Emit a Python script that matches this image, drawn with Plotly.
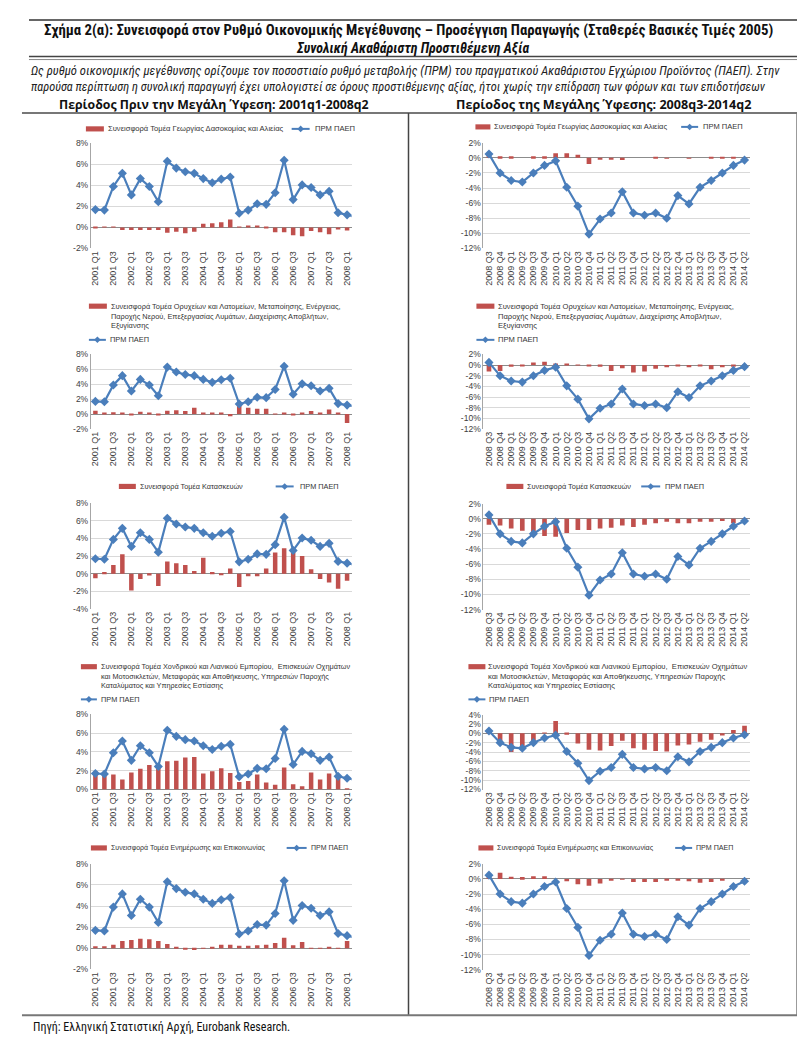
import plotly.graph_objects as go

W, H = 805, 1046

# ---------------- data ----------------
q_pre = [f"{y} Q{q}" for y in range(2001, 2009) for q in range(1, 5)][:30]      # 2001Q1..2008Q2
q_crisis = [f"{y} Q{q}" for y in range(2008, 2015) for q in range(1, 5)][2:26]  # 2008Q3..2014Q2

gdp_pre = [1.7, 1.65, 3.9, 5.15, 3.1, 4.65, 3.9, 2.45, 6.3, 5.65, 5.3, 5.15, 4.65, 4.25, 4.6,
           4.8, 1.35, 1.65, 2.25, 2.2, 3.3, 6.4, 2.65, 4.05, 3.8, 3.1, 3.45, 1.4, 1.2, 1.0]
gdp_crisis = [0.5, -2.0, -3.0, -3.2, -2.0, -1.0, -0.4, -3.9, -6.4, -10.1, -8.1, -7.3, -4.5, -7.3,
              -7.6, -7.3, -8.0, -5.0, -6.1, -3.9, -3.0, -2.0, -1.0, -0.3]

agri_pre = [-0.05, 0.02, 0.02, -0.25, -0.25, -0.25, -0.25, -0.25, -0.5, -0.4, -0.55, -0.4, 0.35, 0.4,
            0.5, 0.75, 0.03, 0.12, 0.12, -0.1, -0.45, -0.45, -0.75, -0.85, -0.35, -0.45, -0.65, -0.2, -0.3]
agri_crisis = [0.4, 0.2, 0.2, 0.0, 0.2, 0.2, 0.6, 0.6, 0.4, -0.8, -0.2, -0.2, -0.3, 0.0, 0.0, 0.05,
               -0.1, 0.0, -0.1, 0.0, 0.1, 0.1, 0.05, -0.1]

ind_pre = [0.45, 0.1, 0.25, 0.2, -0.2, 0.3, 0.15, -0.05, 0.45, 0.5, 0.4, 0.85, 0.1, 0.2, 0.15, -0.3,
           1.2, 0.85, 0.7, 0.7, 0.05, 0.15, -0.2, 0.1, 0.4, 0.1, 0.6, 0.1, -1.2]
ind_crisis = [-1.2, -1.1, -0.3, -0.1, 0.5, 0.6, 0.3, 0.2, 0.05, -0.2, -0.3, -1.1, -0.6, -1.4, -1.2,
              -0.7, -0.4, -0.1, -0.4, -0.1, -0.8, -0.4, -0.3, -0.1]

cons_pre = [-0.5, 0.2, 1.0, 2.2, -1.9, -0.6, -0.2, -1.4, 1.4, 1.2, 1.0, 0.3, 1.8, 0.2, -0.1, 0.6,
            -1.5, -0.3, -0.3, 0.6, 2.4, 2.9, 2.4, 2.0, 0.5, -0.6, -1.0, -1.7, -0.8]
cons_crisis = [-0.8, -0.9, -1.3, -1.6, -2.1, -2.3, -2.4, -1.9, -1.5, -1.5, -1.3, -1.2, -0.9, -1.1,
               -0.8, -0.6, -0.4, -0.6, -0.6, -0.4, -0.4, -0.3, -0.6, -0.2]

trade_pre = [1.95, 1.6, 1.6, 1.05, 1.8, 2.2, 2.6, 2.4, 3.0, 3.05, 3.4, 3.45, 1.7, 1.95, 2.25, 1.75,
             0.8, 0.9, 1.6, 0.75, 0.5, 2.35, 0.55, 0.35, 1.8, 1.05, 1.7, 1.4, 0.05]
trade_crisis = [0.1, -2.0, -4.0, -3.5, -1.8, 0.1, 2.6, -0.3, -2.2, -3.5, -3.7, -2.7, -1.6, -3.2,
                -3.5, -3.8, -3.9, -2.6, -2.4, -1.8, -1.4, -0.5, 0.7, 1.6]

ict_pre = [0.2, 0.2, 0.35, 0.7, 0.8, 0.9, 0.85, 0.7, 0.4, 0.1, -0.05, -0.15, -0.02, 0.15, 0.35, 0.35,
           0.25, 0.25, 0.3, 0.35, 0.5, 1.0, 0.3, 0.6, 0.03, -0.02, 0.15, -0.02, 0.7]
ict_crisis = [0.4, 0.8, 0.3, 0.25, 0.35, 0.35, 0.0, -0.3, -0.7, -0.9, -0.6, -0.2, -0.1, -0.4, -0.4,
              -0.4, -0.2, -0.2, -0.3, -0.5, -0.4, -0.2, 0.0, -0.05]

name_agri = ["Συνεισφορά Τομέα Γεωργίας Δασοκομίας και Αλιείας"]
name_ind = ["Συνεισφορά Τομέα Ορυχείων και Λατομείων, Μεταποίησης, Ενέργειας,",
            "Παροχής Νερού, Επεξεργασίας Λυμάτων, Διαχείρισης Αποβλήτων,",
            "Εξυγίανσης"]
name_cons = ["Συνεισφορά Τομέα Κατασκευών"]
name_trade = ["Συνεισφορά Τομέα Χονδρικού και Λιανικού Εμπορίου,  Επισκευών Οχημάτων",
              "και Μοτοσικλετών, Μεταφοράς και Αποθήκευσης, Υπηρεσιών Παροχής",
              "Καταλύματος και Υπηρεσίες Εστίασης"]
name_ict = ["Συνεισφορά Τομέα Ενημέρωσης και Επικοινωνίας"]
name_gdp = "ΠΡΜ ΠΑΕΠ"

title1 = ("Σχήμα 2(α): Συνεισφορά στον Ρυθμό Οικονομικής Μεγέθυνσης – Προσέγγιση Παραγωγής "
          "(Σταθερές Βασικές Τιμές 2005)")
title2 = "Συνολική Ακαθάριστη Προστιθέμενη Αξία"
intro1 = ("Ως ρυθμό οικονομικής μεγέθυνσης ορίζουμε τον ποσοστιαίο ρυθμό μεταβολής (ΠΡΜ) του "
          "πραγματικού Ακαθάριστου Εγχώριου Προϊόντος (ΠΑΕΠ). Στην")
intro2 = ("παρούσα περίπτωση η συνολική παραγωγή έχει υπολογιστεί σε όρους προστιθέμενης αξίας, "
          "ήτοι χωρίς την επίδραση των φόρων και των επιδοτήσεων")
period_pre = "Περίοδος Πριν την Μεγάλη Ύφεση: 2001q1-2008q2"
period_crisis = "Περίοδος της Μεγάλης Ύφεσης: 2008q3-2014q2"
source = "Πηγή: Ελληνική Στατιστική Αρχή, Eurobank Research."

# ---------------- styling ----------------
BAR = "#C0504D"
LINE = "#4A7EBB"
GRID = "#D9D9D9"
TXT = "#404040"
AXF = "Liberation Sans, Arial, sans-serif"
NARROW = "Liberation Sans Narrow, Arial Narrow, Roboto Condensed, DejaVu Sans Condensed, sans-serif"

def fx(p):
    return p / W

def fy(p):
    return 1 - p / H

LX = (82, 343)
RX = (475, 742)
# (bars, legend lines, side, plot top px, plot bottom px, y range, legend geometry)
panels = [
    (agri_pre, name_agri, "L", 131.7, 237.7, (-2, 8),
     dict(sw=(77, 95, 117), tx=97, ty=[117], lsw=(283, 301, 117), ltx=304, fs=7.6)),
    (agri_crisis, name_agri, "R", 131.0, 237.7, (-12, 2),
     dict(sw=(467, 482, 115), tx=484, ty=[115], lsw=(673, 690, 115), ltx=693, fs=7.5)),
    (ind_pre, name_ind, "L", 344.7, 420.0, (-2, 8),
     dict(sw=(80, 98, 296), tx=100, ty=[296, 306, 315.5], lsw=(80, 97, 330), ltx=99, fs=7.4)),
    (ind_crisis, name_ind, "R", 344.7, 420.0, (-12, 2),
     dict(sw=(468, 486, 296), tx=488, ty=[296, 306, 315.5], lsw=(468, 486, 330), ltx=488, fs=7.6)),
    (cons_pre, name_cons, "L", 495.0, 601.7, (-4, 8),
     dict(sw=(110, 127, 478), tx=129, ty=[478], lsw=(267, 285, 478), ltx=289, fs=7.3)),
    (cons_crisis, name_cons, "R", 495.3, 602.3, (-12, 2),
     dict(sw=(498, 515, 478), tx=517, ty=[478], lsw=(633, 652, 478), ltx=655, fs=7.4)),
    (trade_pre, name_trade, "L", 708.0, 784.0, (0, 8),
     dict(sw=(72, 88, 660), tx=90, ty=[660, 670, 679.3], lsw=(72, 88, 693), ltx=90, fs=7.3)),
    (trade_crisis, name_trade, "R", 708.3, 784.0, (-12, 4),
     dict(sw=(460, 477, 660), tx=478, ty=[660, 670, 679.3], lsw=(460, 477, 693), ltx=479, fs=7.6)),
    (ict_pre, name_ict, "L", 859.0, 965.7, (-2, 8),
     dict(sw=(82, 98, 843), tx=100, ty=[843], lsw=(278, 298, 843), ltx=300, fs=7.0)),
    (ict_crisis, name_ict, "R", 859.0, 966.0, (-12, 2),
     dict(sw=(470, 485, 843), tx=487, ty=[843], lsw=(667, 684, 843), ltx=686, fs=7.1)),
]

fig = go.Figure()
layout = dict(
    width=W, height=H, margin=dict(l=0, r=0, t=0, b=0),
    paper_bgcolor="white", plot_bgcolor="white",
    font=dict(family=AXF, color=TXT, size=8),
    barmode="overlay", showlegend=False,
)
shapes = []
annotations = []

def ann(text, x, y, size, family=AXF, color="#333333", xanchor="left"):
    annotations.append(dict(text=text, x=fx(x), y=fy(y), xref="paper", yref="paper",
                            xanchor=xanchor, yanchor="middle", showarrow=False,
                            font=dict(size=size, family=family, color=color)))

for i, (bars, bname, side, yt, yb, yr, leg) in enumerate(panels, start=1):
    sfx = "" if i == 1 else str(i)
    xa, ya = "x" + sfx, "y" + sfx
    if side == "L":
        cats, gdp, xd, bw = q_pre, gdp_pre, LX, 0.5
        ncat = 29
        tickvals = q_pre[0:29:2]
    else:
        cats, gdp, xd, bw = q_crisis, gdp_crisis, RX, 0.42
        ncat = 24
        tickvals = q_crisis
    fig.add_trace(go.Bar(
        x=cats[:len(bars)], y=bars, name=" ".join(bname), marker=dict(color=BAR, line=dict(width=0)),
        width=bw, xaxis=xa, yaxis=ya, hoverinfo="skip"))
    fig.add_trace(go.Scatter(
        x=cats, y=gdp, name=name_gdp, mode="lines+markers",
        line=dict(color=LINE, width=2.2),
        marker=dict(symbol="diamond", size=7, color=LINE),
        xaxis=xa, yaxis=ya, cliponaxis=True, hoverinfo="skip"))

    yvals = list(range(yr[0], yr[1] + 1, 2))
    layout["xaxis" + sfx] = dict(
        domain=[fx(xd[0]), fx(xd[1])], anchor=ya, type="category",
        categoryorder="array", categoryarray=cats,
        range=[-0.5, ncat - 0.5], tickvals=tickvals, ticktext=tickvals,
        tickangle=-90, tickfont=dict(size=9, color="#404040", family=AXF),
        showgrid=False, showline=False, ticks="", zeroline=False, fixedrange=True)
    layout["yaxis" + sfx] = dict(
        domain=[fy(yb), fy(yt)], anchor=xa, range=[yr[0], yr[1]],
        tickvals=yvals, ticktext=[f"{v}%" for v in yvals],
        tickfont=dict(size=8.5, color="#404040", family=AXF),
        showgrid=True, gridcolor=GRID, gridwidth=1,
        zeroline=True, zerolinecolor="#8C8C8C", zerolinewidth=1,
        showline=True, linecolor="#A6A6A6", linewidth=1, ticks="", ticklen=0,
        fixedrange=True)

    # ---- legend drawn by hand (swatches + text) ----
    x0, x1, sy = leg["sw"]
    shapes.append(dict(type="rect", xref="paper", yref="paper",
                       x0=fx(x0), x1=fx(x1), y0=fy(sy + 2.6), y1=fy(sy - 2.6),
                       fillcolor=BAR, line=dict(width=0)))
    for line_text, ty in zip(bname, leg["ty"]):
        ann(line_text, leg["tx"], ty, leg["fs"])
    lx0, lx1, ly = leg["lsw"]
    shapes.append(dict(type="line", xref="paper", yref="paper",
                       x0=fx(lx0), x1=fx(lx1), y0=fy(ly), y1=fy(ly),
                       line=dict(color=LINE, width=2)))
    cx, d = (lx0 + lx1) / 2, 3.3
    path = (f"M{fx(cx)},{fy(ly - d)} L{fx(cx + d)},{fy(ly)} "
            f"L{fx(cx)},{fy(ly + d)} L{fx(cx - d)},{fy(ly)} Z")
    shapes.append(dict(type="path", xref="paper", yref="paper", path=path,
                       fillcolor=LINE, line=dict(width=0)))
    ann(name_gdp, leg["ltx"], ly, leg["fs"])

fig.update_layout(**layout)

# ---------------- header / footer text ----------------
ann(f"<b>{title1}</b>", 400, 17, 14.8, NARROW, "#111111", "center")
ann(f"<b><i>{title2}</i></b>", 404, 35, 14, NARROW, "#111111", "center")
ann(f"<i>{intro1}</i>", 20, 58, 12.6, NARROW, "#222222")
ann(f"<i>{intro2}</i>", 20, 75, 12.35, NARROW, "#222222")
ann(f"<b>{period_pre}</b>", 205, 92, 12.3, "Open Sans, sans-serif", "#111111", "center")
ann(f"<b>{period_crisis}</b>", 595, 92, 12.6, "Open Sans, sans-serif", "#111111", "center")
ann(source, 22, 1024, 12, NARROW, "#111111")

rules = [
    (20, 790, 7, 7, "#333333", 1.5),
    (20, 790, 44, 44, "#444444", 1.5),
    (20, 790, 47, 47, "#888888", 1),
    (13, 790, 101, 101, "#777777", 2),
    (400, 400, 101, 1012, "#444444", 1.5),
    (789, 789, 101, 1012, "#777777", 1.5),
    (13, 790, 1012, 1012, "#777777", 2),
]
for x0, x1, y0, y1, c, w in rules:
    shapes.append(dict(type="line", xref="paper", yref="paper",
                       x0=fx(x0), x1=fx(x1), y0=fy(y0), y1=fy(y1), line=dict(color=c, width=w)))

fig.update_layout(shapes=shapes, annotations=annotations)
fig.write_html("out.html")
